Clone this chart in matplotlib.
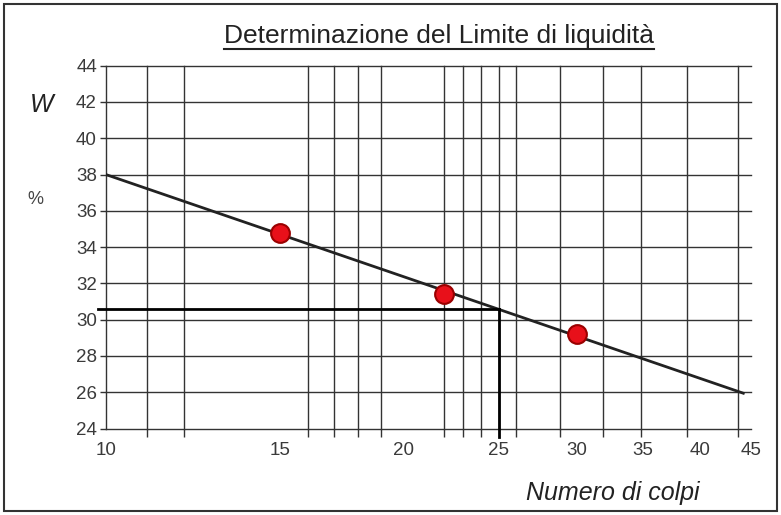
import matplotlib
matplotlib.use('Agg')
import matplotlib.pyplot as plt
from matplotlib.lines import Line2D
from matplotlib.patches import Rectangle
import numpy as np

plt.rcParams['font.family'] = ['Liberation Sans', 'DejaVu Sans']

# Prove di Casagrande: numero di colpi e contenuto d'acqua
colpi = [15, 22, 30]
umidita = [34.8, 31.4, 29.2]

# estensione della retta interpolante
fit_range = [10, 44.2]
n_limite = 25

# righe della carta semilogaritmica
grid_x = [10, 11, 12, 16, 17, 18, 19, 22, 23, 24, 25, 26, 28.8, 31.9, 34.8, 38.8, 43.7]
grid_y = list(range(24, 45, 2))
label_x = [10, 15, 20, 25, 30, 35, 40, 45]

# retta w = a + b*log10(N)
b, a = np.polyfit(np.log10(colpi), umidita, 1)
w_fit = a + b * np.log10(fit_range)
w_limite = a + b * np.log10(n_limite)

W, H = 781, 515
fig = plt.figure(figsize=(W / 100, H / 100), dpi=100)
ax = fig.add_axes([106 / W, 1 - 428.5 / H, 645 / W, 362.8 / H])
ax.set_xscale('log')
ax.set_xlim(10, 45)
ax.set_ylim(24, 44)
for s in ax.spines.values():
    s.set_visible(False)

ax.set_xticks(label_x)
ax.set_xticklabels([str(v) for v in label_x])
ax.set_xticks(grid_x, minor=True)
ax.xaxis.set_minor_formatter(plt.NullFormatter())
ax.tick_params(axis='x', which='major', length=0, pad=10, labelsize=13.5, labelcolor='#3a3a3a')
ax.tick_params(axis='x', which='minor', length=6, width=1, color='#333333')
ax.set_yticks(grid_y)
ax.tick_params(axis='y', which='major', length=4.5, width=1, color='#333333', pad=2,
               labelsize=13.5, labelcolor='#3a3a3a')
ax.tick_params(axis='y', which='minor', length=0)

# righe della griglia
for gx in grid_x:
    ax.axvline(gx, color='#333333', lw=1, clip_on=False, zorder=1)
for gy in grid_y:
    ax.axhline(gy, color='#333333', lw=1, clip_on=False, zorder=1)

# retta interpolante e punti sperimentali
ax.plot(fit_range, w_fit, color='#222222', lw=2, zorder=3)
ax.plot(colpi, umidita, 'o', ms=13.5, mfc='#e8101a', mec='#9a0000', mew=1.5, zorder=4)

# limite di liquidità a 25 colpi
ax.plot([9.81, n_limite], [w_limite, w_limite], color='black', lw=2, clip_on=False, zorder=3)
ax.plot([n_limite, n_limite], [w_limite, 23.55], color='black', lw=2, clip_on=False, zorder=3)

title = fig.text(439 / W, 1 - 36 / H, 'Determinazione del Limite di liquidità',
                 fontsize=19, ha='center', va='center', color='#222222')
fig.text(42 / W, 1 - 105 / H, 'W', fontsize=18, style='italic', ha='center', va='center',
         color='#222222')
fig.text(35 / W, 1 - 200 / H, '%', fontsize=13, ha='center', va='center', color='#444444')
fig.text(613 / W, 1 - 493 / H, 'Numero di colpi', fontsize=18, style='italic',
         ha='center', va='center', color='#222222')

# sottolineatura del titolo
fig.canvas.draw()
bb = title.get_window_extent(fig.canvas.get_renderer())
fig.add_artist(Line2D([bb.x0 / W, bb.x1 / W], [1 - 48.5 / H, 1 - 48.5 / H],
                      transform=fig.transFigure, color='#222222', lw=1.5))

# cornice
fig.add_artist(Rectangle((4 / W, 4 / H), 773 / W, 507 / H, transform=fig.transFigure,
                         fill=False, ec='#333333', lw=1.5))

fig.savefig('out.png', dpi=100)
